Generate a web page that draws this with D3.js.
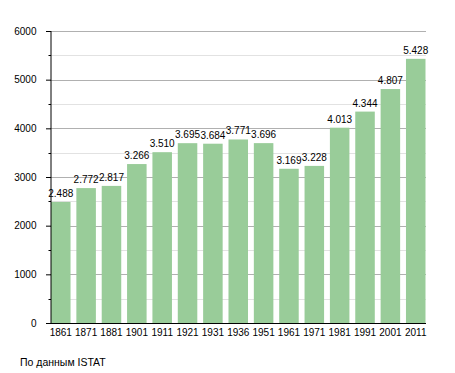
<!DOCTYPE html>
<html>
<head>
<meta charset="utf-8">
<script src="https://cdn.jsdelivr.net/npm/d3@7"></script>
<style>
  body { margin: 0; background: #fff; }
  text { font-family: "Liberation Sans", Arial, sans-serif; }
</style>
</head>
<body>
<div id="chart"></div>
<script>
/* data */
const years = ["1861", "1871", "1881", "1901", "1911", "1921", "1931", "1936", "1951", "1961", "1971", "1981", "1991", "2001", "2011"];
const population = [2488, 2772, 2817, 3266, 3510, 3695, 3684, 3771, 3696, 3169, 3228, 4013, 4344, 4807, 5428];
const yTicks = [0, 1000, 2000, 3000, 4000, 5000, 6000];
const sourceNote = "По данным  ISTAT";

/* dimensions */
const margin = { top: 31, right: 29, bottom: 50, left: 50.5 },
      W = 455, H = 373;
const width = 426 - margin.left, height = 323 - margin.top;

const svg = d3.select("#chart").append("svg")
    .attr("width", W).attr("height", H);
const g = svg.append("g").attr("transform", `translate(${margin.left},${margin.top})`);

const x = d3.scaleBand().domain(years).range([0, width]).paddingInner(0.23).paddingOuter(0.02);
const y = d3.scaleLinear().domain([0, 6000]).range([height, 0]);

/* grid: minor then major */
const minor = d3.range(500, 6000, 1000);
g.selectAll(".minor").data(minor).enter().append("line")
    .attr("x1", 0).attr("x2", width)
    .attr("y1", d => Math.round(y(d)) + 0.5).attr("y2", d => Math.round(y(d)) + 0.5)
    .attr("stroke", "#e2e2e2").attr("stroke-width", 1);
g.selectAll(".major").data(yTicks.slice(1)).enter().append("line")
    .attr("x1", 0).attr("x2", width)
    .attr("y1", d => Math.round(y(d)) + 0.5).attr("y2", d => Math.round(y(d)) + 0.5)
    .attr("stroke", "#b0b0b0").attr("stroke-width", 1);

/* bars */
g.selectAll(".bar").data(population).enter().append("rect")
    .attr("x", (d, i) => x(years[i]))
    .attr("y", d => y(d))
    .attr("width", x.bandwidth())
    .attr("height", d => height - y(d))
    .attr("fill", "#99cc99");

/* value labels */
const fmt = d => d3.format(",")(d).replace(",", ".");
g.selectAll(".val").data(population).enter().append("text")
    .attr("x", (d, i) => x(years[i]) + x.bandwidth() / 2)
    .attr("y", d => y(d) - 5)
    .attr("text-anchor", "middle")
    .attr("font-size", "10px").attr("fill", "#000")
    .text(fmt);

/* y axis */
const yAxis = g.append("g")
    .call(d3.axisLeft(y).tickValues(yTicks).tickSize(5).tickPadding(9).tickFormat(d => d));
yAxis.selectAll("text").attr("font-size", "10px").attr("fill", "#000").attr("font-family", "Liberation Sans, Arial, sans-serif");
yAxis.select(".domain").attr("stroke", "#000").attr("d", `M0.5,0V${height}`);
yAxis.selectAll(".tick line").attr("stroke", "#000").attr("transform", "translate(0.5,0)");
g.selectAll(".mtick").data(minor).enter().append("line")
    .attr("x1", -2).attr("x2", 0.5)
    .attr("y1", d => Math.round(y(d)) + 0.5).attr("y2", d => Math.round(y(d)) + 0.5)
    .attr("stroke", "#000");

/* x axis */
const xAxis = g.append("g").attr("transform", `translate(0,${height})`)
    .call(d3.axisBottom(x).tickSize(0).tickPadding(6));
xAxis.select(".domain").attr("stroke", "#000").attr("d", `M0,0.5H${width}`);
xAxis.selectAll("text").attr("font-size", "10px").attr("fill", "#000").attr("font-family", "Liberation Sans, Arial, sans-serif");

/* source */
svg.append("text").attr("x", 20).attr("y", 366)
    .attr("font-size", "10.5px").attr("fill", "#000")
    .text(sourceNote);
</script>
</body>
</html>
